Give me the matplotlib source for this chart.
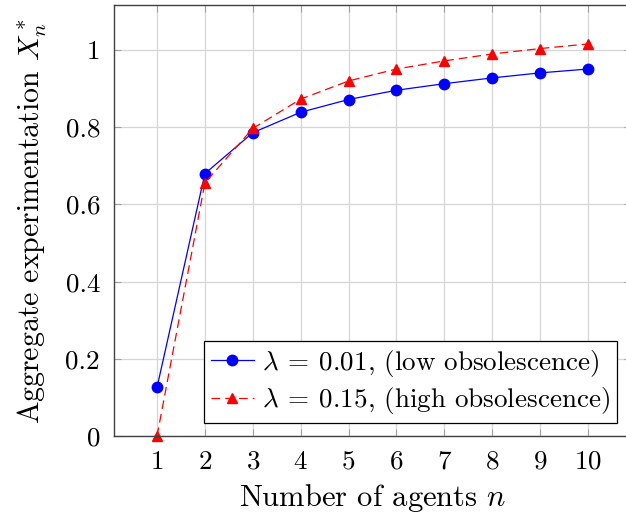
import matplotlib
matplotlib.use("Agg")
import matplotlib.pyplot as plt

plt.rcParams["font.family"] = "serif"
plt.rcParams["font.serif"] = ["cmr10", "DejaVu Serif"]
plt.rcParams["mathtext.fontset"] = "cm"
plt.rcParams["axes.formatter.use_mathtext"] = True

# aggregate experimentation vs number of agents
agents = [1, 2, 3, 4, 5, 6, 7, 8, 9, 10]
low_obs = [0.126, 0.680, 0.786, 0.839, 0.872, 0.896, 0.913, 0.928, 0.941, 0.951]
high_obs = [0.0, 0.656, 0.797, 0.873, 0.920, 0.951, 0.972, 0.990, 1.004, 1.016]

fig = plt.figure(figsize=(6.26, 5.16), dpi=100)
ax = fig.add_axes([0.182, 0.155, 0.826, 0.835])

ax.plot(agents, low_obs, color="blue", linestyle="-", linewidth=0.9,
        marker="o", markersize=7.5, clip_on=False,
        label=r"$\lambda\:=\:0.01$, (low obsolescence)")
ax.plot(agents, high_obs, color="red", linestyle=(0, (7, 4)), linewidth=0.9,
        marker="^", markersize=7.5, clip_on=False,
        label=r"$\lambda\:=\:0.15$, (high obsolescence)")

ax.set_xlim(0.1, 10.9)
ax.set_ylim(0, 1.1165)
ax.set_xticks(agents)
ax.set_yticks([0, 0.2, 0.4, 0.6, 0.8, 1.0])
ax.set_yticklabels(["0", "0.2", "0.4", "0.6", "0.8", "1"])

ax.grid(True, color="#d6d6d6", linewidth=0.9)
ax.set_axisbelow(True)
ax.tick_params(direction="in", length=5, color="#a0a0a0", labelsize=19.5,
               top=True, right=True, pad=10)
for s in ax.spines.values():
    s.set_color("#404040")
    s.set_linewidth(1.0)

ax.set_xlabel(r"Number of agents $n$", fontsize=22, labelpad=6)
ax.set_ylabel(r"Aggregate experimentation $X_n^*$", fontsize=21.5, labelpad=12)

leg = ax.legend(loc="lower right", bbox_to_anchor=(0.973, 0.03), borderaxespad=0,
                fontsize=19.5, fancybox=False, edgecolor="black", framealpha=1,
                handlelength=1.6, handletextpad=0.3, borderpad=0.25,
                labelspacing=0.25)
leg.get_frame().set_linewidth(0.9)

fig.savefig("out.png", dpi=100)
